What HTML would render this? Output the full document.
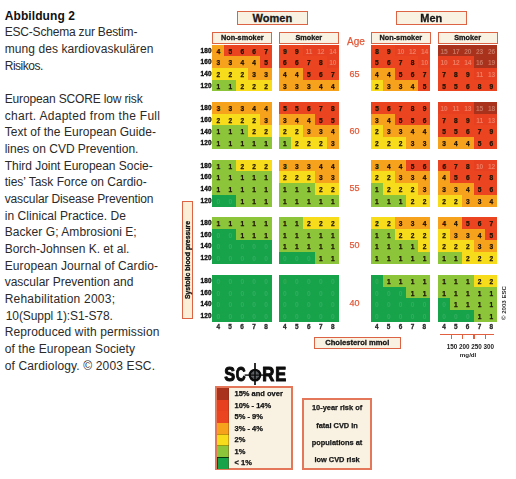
<!DOCTYPE html>
<html><head><meta charset="utf-8"><title>Abbildung 2</title>
<style>
html,body{margin:0;padding:0;background:#fff}
body{width:516px;height:479px;position:relative;overflow:hidden;font-family:"Liberation Sans",sans-serif;color:#1c1c1c}
.cap{position:absolute;left:4.7px;white-space:nowrap;font-size:12px;line-height:16.67px;height:16.67px;color:#2a2a2a}
.cap b{color:#111}
#chart{position:absolute;left:0;top:0;width:516px;height:479px;filter:blur(0.6px)}
.blk{position:absolute;overflow:hidden}
.blk i{position:absolute;display:block;font-style:normal;font-weight:bold;font-size:6.6px;line-height:13px;text-align:center;color:#1e1204;-webkit-text-stroke:0.25px #1e1204}
.blk i.w{color:rgba(250,205,185,0.42);-webkit-text-stroke:0;letter-spacing:-0.2px}
.blk i.z{color:rgba(255,255,255,0.12);-webkit-text-stroke:0}
.G{background:#16a34a}.g{background:#8dc53a}.Y{background:#f7dc1c}.O{background:#f6a21c}.R{background:#ea4520}.r{background:#e64020}.D{background:#a8321c}
.yl{position:absolute;width:12.4px;text-align:right;font-size:6.4px;font-weight:bold;color:#111;letter-spacing:0.1px;-webkit-text-stroke:0.35px #111}
.xl{position:absolute;text-align:center;font-size:6.4px;font-weight:bold;color:#2a2a2a;line-height:6px;-webkit-text-stroke:0.3px #2a2a2a}
.box{position:absolute;box-sizing:border-box;border:1.7px solid #dc6444;background:#f9f2e2;-webkit-text-stroke:0.3px #111;text-align:center;font-weight:bold;color:#1a1a1a;white-space:nowrap;overflow:hidden}
.age{position:absolute;color:#e05a3a;-webkit-text-stroke:0.25px #e05a3a;text-align:center;white-space:nowrap}
</style></head>
<body>
<div class="cap" style="top:7.51px;left:4.7px;letter-spacing:0.097px"><b>Abbildung 2</b></div>
<div class="cap" style="top:24.18px;left:4.7px;letter-spacing:-0.191px">ESC-Schema zur Bestim-</div>
<div class="cap" style="top:40.85px;left:4.7px;letter-spacing:0.081px">mung des kardiovaskulären</div>
<div class="cap" style="top:57.52px;left:4.7px;letter-spacing:-0.474px">Risikos.</div>
<div class="cap" style="top:90.86px;left:4.7px;letter-spacing:-0.154px">European SCORE low risk</div>
<div class="cap" style="top:107.53px;left:4.7px;letter-spacing:0.292px">chart. Adapted from the Full</div>
<div class="cap" style="top:124.20px;left:4.7px;letter-spacing:0.046px">Text of the European Guide-</div>
<div class="cap" style="top:140.87px;left:4.7px;letter-spacing:-0.016px">lines on CVD Prevention.</div>
<div class="cap" style="top:157.54px;left:4.7px;letter-spacing:-0.029px">Third Joint European Socie-</div>
<div class="cap" style="top:174.21px;left:4.7px;letter-spacing:-0.002px">ties’ Task Force on Cardio-</div>
<div class="cap" style="top:190.88px;left:4.7px;letter-spacing:-0.130px">vascular Disease Prevention</div>
<div class="cap" style="top:207.55px;left:4.7px;letter-spacing:0.054px">in Clinical Practice. De</div>
<div class="cap" style="top:224.22px;left:4.7px;letter-spacing:0.058px">Backer G; Ambrosioni E;</div>
<div class="cap" style="top:240.89px;left:4.7px;letter-spacing:-0.002px">Borch-Johnsen K. et al.</div>
<div class="cap" style="top:257.56px;left:4.7px;letter-spacing:0.097px">European Journal of Cardio-</div>
<div class="cap" style="top:274.23px;left:4.7px;letter-spacing:-0.002px">vascular Prevention and</div>
<div class="cap" style="top:290.90px;left:4.7px;letter-spacing:0.222px">Rehabilitation 2003;</div>
<div class="cap" style="top:307.57px;left:5.8px;letter-spacing:-0.096px">10(Suppl 1):S1-S78.</div>
<div class="cap" style="top:324.24px;left:4.7px;letter-spacing:0.132px">Reproduced with permission</div>
<div class="cap" style="top:340.91px;left:4.7px;letter-spacing:0.100px">of the European Society</div>
<div class="cap" style="top:357.58px;left:4.7px;letter-spacing:0.144px">of Cardiology. © 2003 ESC.</div>
<div id="chart">
<div class="box" style="left:237px;top:10.8px;width:70.7px;height:14.5px;font-size:11px;line-height:11.6px;padding-top:1.6px">Women</div>
<div class="box" style="left:396px;top:10.8px;width:70.7px;height:14.5px;font-size:11px;line-height:11.6px;padding-top:1.6px">Men</div>
<div class="box lb" style="left:212.2px;top:32.3px;width:60.2px;height:12px;font-size:7.3px;line-height:8.8px;padding-top:0.7px">Non-smoker</div>
<div class="box lb" style="left:278.7px;top:32.3px;width:60.2px;height:12px;font-size:7.3px;line-height:8.8px;padding-top:0.7px">Smoker</div>
<div class="box lb" style="left:370.8px;top:32.3px;width:60px;height:12px;font-size:7.3px;line-height:8.8px;padding-top:0.7px">Non-smoker</div>
<div class="box lb" style="left:437.6px;top:32.3px;width:60px;height:12px;font-size:7.3px;line-height:8.8px;padding-top:0.7px">Smoker</div>
<div class="age" style="left:341.5px;top:35.8px;width:29px;font-size:10px;line-height:12px">Age</div>
<div class="age" style="left:340px;top:67.8px;width:29px;font-size:9px;line-height:12px">65</div>
<div class="age" style="left:340px;top:124.5px;width:29px;font-size:9px;line-height:12px">60</div>
<div class="age" style="left:340px;top:181.8px;width:29px;font-size:9px;line-height:12px">55</div>
<div class="age" style="left:340px;top:239.2px;width:29px;font-size:9px;line-height:12px">50</div>
<div class="age" style="left:340px;top:296.5px;width:29px;font-size:9px;line-height:12px">40</div>
<div class="blk" style="left:212.2px;top:44.7px;width:59.80000000000001px;height:46.8px"><i class="O " style="left:0.00px;top:0.00px;width:12.26px;height:12.00px">4</i><i class="R " style="left:11.96px;top:0.00px;width:12.26px;height:12.00px">5</i><i class="R " style="left:23.92px;top:0.00px;width:12.26px;height:12.00px">6</i><i class="R " style="left:35.88px;top:0.00px;width:12.26px;height:12.00px">6</i><i class="R " style="left:47.84px;top:0.00px;width:12.26px;height:12.00px">7</i><i class="O " style="left:0.00px;top:11.70px;width:12.26px;height:12.00px">3</i><i class="O " style="left:11.96px;top:11.70px;width:12.26px;height:12.00px">3</i><i class="O " style="left:23.92px;top:11.70px;width:12.26px;height:12.00px">4</i><i class="O " style="left:35.88px;top:11.70px;width:12.26px;height:12.00px">4</i><i class="R " style="left:47.84px;top:11.70px;width:12.26px;height:12.00px">5</i><i class="Y " style="left:0.00px;top:23.40px;width:12.26px;height:12.00px">2</i><i class="Y " style="left:11.96px;top:23.40px;width:12.26px;height:12.00px">2</i><i class="Y " style="left:23.92px;top:23.40px;width:12.26px;height:12.00px">2</i><i class="O " style="left:35.88px;top:23.40px;width:12.26px;height:12.00px">3</i><i class="O " style="left:47.84px;top:23.40px;width:12.26px;height:12.00px">3</i><i class="g " style="left:0.00px;top:35.10px;width:12.26px;height:12.00px">1</i><i class="g " style="left:11.96px;top:35.10px;width:12.26px;height:12.00px">1</i><i class="Y " style="left:23.92px;top:35.10px;width:12.26px;height:12.00px">2</i><i class="Y " style="left:35.88px;top:35.10px;width:12.26px;height:12.00px">2</i><i class="Y " style="left:47.84px;top:35.10px;width:12.26px;height:12.00px">2</i></div>
<span class="yl" style="left:199.2px;top:44.70px;height:11.70px;line-height:11.70px">180</span>
<span class="yl" style="left:199.2px;top:56.40px;height:11.70px;line-height:11.70px">160</span>
<span class="yl" style="left:199.2px;top:68.10px;height:11.70px;line-height:11.70px">140</span>
<span class="yl" style="left:199.2px;top:79.80px;height:11.70px;line-height:11.70px">120</span>
<div class="blk" style="left:212.2px;top:102.3px;width:59.80000000000001px;height:46.39999999999999px"><i class="O " style="left:0.00px;top:0.00px;width:12.26px;height:11.90px">3</i><i class="O " style="left:11.96px;top:0.00px;width:12.26px;height:11.90px">3</i><i class="O " style="left:23.92px;top:0.00px;width:12.26px;height:11.90px">3</i><i class="O " style="left:35.88px;top:0.00px;width:12.26px;height:11.90px">4</i><i class="O " style="left:47.84px;top:0.00px;width:12.26px;height:11.90px">4</i><i class="Y " style="left:0.00px;top:11.60px;width:12.26px;height:11.90px">2</i><i class="Y " style="left:11.96px;top:11.60px;width:12.26px;height:11.90px">2</i><i class="Y " style="left:23.92px;top:11.60px;width:12.26px;height:11.90px">2</i><i class="Y " style="left:35.88px;top:11.60px;width:12.26px;height:11.90px">2</i><i class="O " style="left:47.84px;top:11.60px;width:12.26px;height:11.90px">3</i><i class="g " style="left:0.00px;top:23.20px;width:12.26px;height:11.90px">1</i><i class="g " style="left:11.96px;top:23.20px;width:12.26px;height:11.90px">1</i><i class="g " style="left:23.92px;top:23.20px;width:12.26px;height:11.90px">1</i><i class="Y " style="left:35.88px;top:23.20px;width:12.26px;height:11.90px">2</i><i class="Y " style="left:47.84px;top:23.20px;width:12.26px;height:11.90px">2</i><i class="g " style="left:0.00px;top:34.80px;width:12.26px;height:11.90px">1</i><i class="g " style="left:11.96px;top:34.80px;width:12.26px;height:11.90px">1</i><i class="g " style="left:23.92px;top:34.80px;width:12.26px;height:11.90px">1</i><i class="g " style="left:35.88px;top:34.80px;width:12.26px;height:11.90px">1</i><i class="g " style="left:47.84px;top:34.80px;width:12.26px;height:11.90px">1</i></div>
<span class="yl" style="left:199.2px;top:102.30px;height:11.60px;line-height:11.60px">180</span>
<span class="yl" style="left:199.2px;top:113.90px;height:11.60px;line-height:11.60px">160</span>
<span class="yl" style="left:199.2px;top:125.50px;height:11.60px;line-height:11.60px">140</span>
<span class="yl" style="left:199.2px;top:137.10px;height:11.60px;line-height:11.60px">120</span>
<div class="blk" style="left:212.2px;top:159.6px;width:59.80000000000001px;height:47.20000000000002px"><i class="g " style="left:0.00px;top:0.00px;width:12.26px;height:12.10px">1</i><i class="g " style="left:11.96px;top:0.00px;width:12.26px;height:12.10px">1</i><i class="Y " style="left:23.92px;top:0.00px;width:12.26px;height:12.10px">2</i><i class="Y " style="left:35.88px;top:0.00px;width:12.26px;height:12.10px">2</i><i class="Y " style="left:47.84px;top:0.00px;width:12.26px;height:12.10px">2</i><i class="g " style="left:0.00px;top:11.80px;width:12.26px;height:12.10px">1</i><i class="g " style="left:11.96px;top:11.80px;width:12.26px;height:12.10px">1</i><i class="g " style="left:23.92px;top:11.80px;width:12.26px;height:12.10px">1</i><i class="g " style="left:35.88px;top:11.80px;width:12.26px;height:12.10px">1</i><i class="g " style="left:47.84px;top:11.80px;width:12.26px;height:12.10px">1</i><i class="g " style="left:0.00px;top:23.60px;width:12.26px;height:12.10px">1</i><i class="g " style="left:11.96px;top:23.60px;width:12.26px;height:12.10px">1</i><i class="g " style="left:23.92px;top:23.60px;width:12.26px;height:12.10px">1</i><i class="g " style="left:35.88px;top:23.60px;width:12.26px;height:12.10px">1</i><i class="g " style="left:47.84px;top:23.60px;width:12.26px;height:12.10px">1</i><i class="G z" style="left:0.00px;top:35.40px;width:12.26px;height:12.10px">0</i><i class="G z" style="left:11.96px;top:35.40px;width:12.26px;height:12.10px">0</i><i class="g " style="left:23.92px;top:35.40px;width:12.26px;height:12.10px">1</i><i class="g " style="left:35.88px;top:35.40px;width:12.26px;height:12.10px">1</i><i class="g " style="left:47.84px;top:35.40px;width:12.26px;height:12.10px">1</i></div>
<span class="yl" style="left:199.2px;top:159.60px;height:11.80px;line-height:11.80px">180</span>
<span class="yl" style="left:199.2px;top:171.40px;height:11.80px;line-height:11.80px">160</span>
<span class="yl" style="left:199.2px;top:183.20px;height:11.80px;line-height:11.80px">140</span>
<span class="yl" style="left:199.2px;top:195.00px;height:11.80px;line-height:11.80px">120</span>
<div class="blk" style="left:212.2px;top:217.0px;width:59.80000000000001px;height:46.69999999999999px"><i class="g " style="left:0.00px;top:0.00px;width:12.26px;height:11.97px">1</i><i class="g " style="left:11.96px;top:0.00px;width:12.26px;height:11.97px">1</i><i class="g " style="left:23.92px;top:0.00px;width:12.26px;height:11.97px">1</i><i class="g " style="left:35.88px;top:0.00px;width:12.26px;height:11.97px">1</i><i class="g " style="left:47.84px;top:0.00px;width:12.26px;height:11.97px">1</i><i class="G z" style="left:0.00px;top:11.67px;width:12.26px;height:11.97px">0</i><i class="G z" style="left:11.96px;top:11.67px;width:12.26px;height:11.97px">0</i><i class="g " style="left:23.92px;top:11.67px;width:12.26px;height:11.97px">1</i><i class="g " style="left:35.88px;top:11.67px;width:12.26px;height:11.97px">1</i><i class="g " style="left:47.84px;top:11.67px;width:12.26px;height:11.97px">1</i><i class="G z" style="left:0.00px;top:23.35px;width:12.26px;height:11.97px">0</i><i class="G z" style="left:11.96px;top:23.35px;width:12.26px;height:11.97px">0</i><i class="G z" style="left:23.92px;top:23.35px;width:12.26px;height:11.97px">0</i><i class="G z" style="left:35.88px;top:23.35px;width:12.26px;height:11.97px">0</i><i class="G z" style="left:47.84px;top:23.35px;width:12.26px;height:11.97px">0</i><i class="G z" style="left:0.00px;top:35.02px;width:12.26px;height:11.97px">0</i><i class="G z" style="left:11.96px;top:35.02px;width:12.26px;height:11.97px">0</i><i class="G z" style="left:23.92px;top:35.02px;width:12.26px;height:11.97px">0</i><i class="G z" style="left:35.88px;top:35.02px;width:12.26px;height:11.97px">0</i><i class="G z" style="left:47.84px;top:35.02px;width:12.26px;height:11.97px">0</i></div>
<span class="yl" style="left:199.2px;top:217.00px;height:11.67px;line-height:11.67px">180</span>
<span class="yl" style="left:199.2px;top:228.68px;height:11.67px;line-height:11.67px">160</span>
<span class="yl" style="left:199.2px;top:240.35px;height:11.67px;line-height:11.67px">140</span>
<span class="yl" style="left:199.2px;top:252.02px;height:11.67px;line-height:11.67px">120</span>
<div class="blk" style="left:212.2px;top:274.8px;width:59.80000000000001px;height:47.19999999999999px"><i class="G z" style="left:0.00px;top:0.00px;width:12.26px;height:12.10px">0</i><i class="G z" style="left:11.96px;top:0.00px;width:12.26px;height:12.10px">0</i><i class="G z" style="left:23.92px;top:0.00px;width:12.26px;height:12.10px">0</i><i class="G z" style="left:35.88px;top:0.00px;width:12.26px;height:12.10px">0</i><i class="G z" style="left:47.84px;top:0.00px;width:12.26px;height:12.10px">0</i><i class="G z" style="left:0.00px;top:11.80px;width:12.26px;height:12.10px">0</i><i class="G z" style="left:11.96px;top:11.80px;width:12.26px;height:12.10px">0</i><i class="G z" style="left:23.92px;top:11.80px;width:12.26px;height:12.10px">0</i><i class="G z" style="left:35.88px;top:11.80px;width:12.26px;height:12.10px">0</i><i class="G z" style="left:47.84px;top:11.80px;width:12.26px;height:12.10px">0</i><i class="G z" style="left:0.00px;top:23.60px;width:12.26px;height:12.10px">0</i><i class="G z" style="left:11.96px;top:23.60px;width:12.26px;height:12.10px">0</i><i class="G z" style="left:23.92px;top:23.60px;width:12.26px;height:12.10px">0</i><i class="G z" style="left:35.88px;top:23.60px;width:12.26px;height:12.10px">0</i><i class="G z" style="left:47.84px;top:23.60px;width:12.26px;height:12.10px">0</i><i class="G z" style="left:0.00px;top:35.40px;width:12.26px;height:12.10px">0</i><i class="G z" style="left:11.96px;top:35.40px;width:12.26px;height:12.10px">0</i><i class="G z" style="left:23.92px;top:35.40px;width:12.26px;height:12.10px">0</i><i class="G z" style="left:35.88px;top:35.40px;width:12.26px;height:12.10px">0</i><i class="G z" style="left:47.84px;top:35.40px;width:12.26px;height:12.10px">0</i></div>
<span class="yl" style="left:199.2px;top:274.80px;height:11.80px;line-height:11.80px">180</span>
<span class="yl" style="left:199.2px;top:286.60px;height:11.80px;line-height:11.80px">160</span>
<span class="yl" style="left:199.2px;top:298.40px;height:11.80px;line-height:11.80px">140</span>
<span class="yl" style="left:199.2px;top:310.20px;height:11.80px;line-height:11.80px">120</span>
<span class="xl" style="left:212.20px;top:323.5px;width:11.96px">4</span>
<span class="xl" style="left:224.16px;top:323.5px;width:11.96px">5</span>
<span class="xl" style="left:236.12px;top:323.5px;width:11.96px">6</span>
<span class="xl" style="left:248.08px;top:323.5px;width:11.96px">7</span>
<span class="xl" style="left:260.04px;top:323.5px;width:11.96px">8</span>
<div class="blk" style="left:278.7px;top:44.7px;width:60.0px;height:46.8px"><i class="R " style="left:0.00px;top:0.00px;width:12.30px;height:12.00px">9</i><i class="R " style="left:12.00px;top:0.00px;width:12.30px;height:12.00px">9</i><i class="r w" style="left:24.00px;top:0.00px;width:12.30px;height:12.00px">11</i><i class="r w" style="left:36.00px;top:0.00px;width:12.30px;height:12.00px">12</i><i class="r w" style="left:48.00px;top:0.00px;width:12.30px;height:12.00px">14</i><i class="R " style="left:0.00px;top:11.70px;width:12.30px;height:12.00px">6</i><i class="R " style="left:12.00px;top:11.70px;width:12.30px;height:12.00px">6</i><i class="R " style="left:24.00px;top:11.70px;width:12.30px;height:12.00px">7</i><i class="R " style="left:36.00px;top:11.70px;width:12.30px;height:12.00px">8</i><i class="r w" style="left:48.00px;top:11.70px;width:12.30px;height:12.00px">10</i><i class="O " style="left:0.00px;top:23.40px;width:12.30px;height:12.00px">4</i><i class="O " style="left:12.00px;top:23.40px;width:12.30px;height:12.00px">4</i><i class="R " style="left:24.00px;top:23.40px;width:12.30px;height:12.00px">5</i><i class="R " style="left:36.00px;top:23.40px;width:12.30px;height:12.00px">6</i><i class="R " style="left:48.00px;top:23.40px;width:12.30px;height:12.00px">7</i><i class="O " style="left:0.00px;top:35.10px;width:12.30px;height:12.00px">3</i><i class="O " style="left:12.00px;top:35.10px;width:12.30px;height:12.00px">3</i><i class="O " style="left:24.00px;top:35.10px;width:12.30px;height:12.00px">3</i><i class="O " style="left:36.00px;top:35.10px;width:12.30px;height:12.00px">4</i><i class="O " style="left:48.00px;top:35.10px;width:12.30px;height:12.00px">4</i></div>
<div class="blk" style="left:278.7px;top:102.3px;width:60.0px;height:46.39999999999999px"><i class="R " style="left:0.00px;top:0.00px;width:12.30px;height:11.90px">5</i><i class="R " style="left:12.00px;top:0.00px;width:12.30px;height:11.90px">5</i><i class="R " style="left:24.00px;top:0.00px;width:12.30px;height:11.90px">6</i><i class="R " style="left:36.00px;top:0.00px;width:12.30px;height:11.90px">7</i><i class="R " style="left:48.00px;top:0.00px;width:12.30px;height:11.90px">8</i><i class="O " style="left:0.00px;top:11.60px;width:12.30px;height:11.90px">3</i><i class="O " style="left:12.00px;top:11.60px;width:12.30px;height:11.90px">4</i><i class="O " style="left:24.00px;top:11.60px;width:12.30px;height:11.90px">4</i><i class="R " style="left:36.00px;top:11.60px;width:12.30px;height:11.90px">5</i><i class="R " style="left:48.00px;top:11.60px;width:12.30px;height:11.90px">5</i><i class="Y " style="left:0.00px;top:23.20px;width:12.30px;height:11.90px">2</i><i class="Y " style="left:12.00px;top:23.20px;width:12.30px;height:11.90px">2</i><i class="O " style="left:24.00px;top:23.20px;width:12.30px;height:11.90px">3</i><i class="O " style="left:36.00px;top:23.20px;width:12.30px;height:11.90px">3</i><i class="O " style="left:48.00px;top:23.20px;width:12.30px;height:11.90px">4</i><i class="g " style="left:0.00px;top:34.80px;width:12.30px;height:11.90px">1</i><i class="Y " style="left:12.00px;top:34.80px;width:12.30px;height:11.90px">2</i><i class="Y " style="left:24.00px;top:34.80px;width:12.30px;height:11.90px">2</i><i class="Y " style="left:36.00px;top:34.80px;width:12.30px;height:11.90px">2</i><i class="O " style="left:48.00px;top:34.80px;width:12.30px;height:11.90px">3</i></div>
<div class="blk" style="left:278.7px;top:159.6px;width:60.0px;height:47.20000000000002px"><i class="O " style="left:0.00px;top:0.00px;width:12.30px;height:12.10px">3</i><i class="O " style="left:12.00px;top:0.00px;width:12.30px;height:12.10px">3</i><i class="O " style="left:24.00px;top:0.00px;width:12.30px;height:12.10px">3</i><i class="O " style="left:36.00px;top:0.00px;width:12.30px;height:12.10px">4</i><i class="O " style="left:48.00px;top:0.00px;width:12.30px;height:12.10px">4</i><i class="Y " style="left:0.00px;top:11.80px;width:12.30px;height:12.10px">2</i><i class="Y " style="left:12.00px;top:11.80px;width:12.30px;height:12.10px">2</i><i class="Y " style="left:24.00px;top:11.80px;width:12.30px;height:12.10px">2</i><i class="O " style="left:36.00px;top:11.80px;width:12.30px;height:12.10px">3</i><i class="O " style="left:48.00px;top:11.80px;width:12.30px;height:12.10px">3</i><i class="g " style="left:0.00px;top:23.60px;width:12.30px;height:12.10px">1</i><i class="g " style="left:12.00px;top:23.60px;width:12.30px;height:12.10px">1</i><i class="g " style="left:24.00px;top:23.60px;width:12.30px;height:12.10px">1</i><i class="Y " style="left:36.00px;top:23.60px;width:12.30px;height:12.10px">2</i><i class="Y " style="left:48.00px;top:23.60px;width:12.30px;height:12.10px">2</i><i class="g " style="left:0.00px;top:35.40px;width:12.30px;height:12.10px">1</i><i class="g " style="left:12.00px;top:35.40px;width:12.30px;height:12.10px">1</i><i class="g " style="left:24.00px;top:35.40px;width:12.30px;height:12.10px">1</i><i class="g " style="left:36.00px;top:35.40px;width:12.30px;height:12.10px">1</i><i class="g " style="left:48.00px;top:35.40px;width:12.30px;height:12.10px">1</i></div>
<div class="blk" style="left:278.7px;top:217.0px;width:60.0px;height:46.69999999999999px"><i class="g " style="left:0.00px;top:0.00px;width:12.30px;height:11.97px">1</i><i class="g " style="left:12.00px;top:0.00px;width:12.30px;height:11.97px">1</i><i class="Y " style="left:24.00px;top:0.00px;width:12.30px;height:11.97px">2</i><i class="Y " style="left:36.00px;top:0.00px;width:12.30px;height:11.97px">2</i><i class="Y " style="left:48.00px;top:0.00px;width:12.30px;height:11.97px">2</i><i class="g " style="left:0.00px;top:11.67px;width:12.30px;height:11.97px">1</i><i class="g " style="left:12.00px;top:11.67px;width:12.30px;height:11.97px">1</i><i class="g " style="left:24.00px;top:11.67px;width:12.30px;height:11.97px">1</i><i class="g " style="left:36.00px;top:11.67px;width:12.30px;height:11.97px">1</i><i class="g " style="left:48.00px;top:11.67px;width:12.30px;height:11.97px">1</i><i class="g " style="left:0.00px;top:23.35px;width:12.30px;height:11.97px">1</i><i class="g " style="left:12.00px;top:23.35px;width:12.30px;height:11.97px">1</i><i class="g " style="left:24.00px;top:23.35px;width:12.30px;height:11.97px">1</i><i class="g " style="left:36.00px;top:23.35px;width:12.30px;height:11.97px">1</i><i class="g " style="left:48.00px;top:23.35px;width:12.30px;height:11.97px">1</i><i class="G z" style="left:0.00px;top:35.02px;width:12.30px;height:11.97px">0</i><i class="G z" style="left:12.00px;top:35.02px;width:12.30px;height:11.97px">0</i><i class="G z" style="left:24.00px;top:35.02px;width:12.30px;height:11.97px">0</i><i class="g " style="left:36.00px;top:35.02px;width:12.30px;height:11.97px">1</i><i class="g " style="left:48.00px;top:35.02px;width:12.30px;height:11.97px">1</i></div>
<div class="blk" style="left:278.7px;top:274.8px;width:60.0px;height:47.19999999999999px"><i class="G z" style="left:0.00px;top:0.00px;width:12.30px;height:12.10px">0</i><i class="G z" style="left:12.00px;top:0.00px;width:12.30px;height:12.10px">0</i><i class="G z" style="left:24.00px;top:0.00px;width:12.30px;height:12.10px">0</i><i class="G z" style="left:36.00px;top:0.00px;width:12.30px;height:12.10px">0</i><i class="G z" style="left:48.00px;top:0.00px;width:12.30px;height:12.10px">0</i><i class="G z" style="left:0.00px;top:11.80px;width:12.30px;height:12.10px">0</i><i class="G z" style="left:12.00px;top:11.80px;width:12.30px;height:12.10px">0</i><i class="G z" style="left:24.00px;top:11.80px;width:12.30px;height:12.10px">0</i><i class="G z" style="left:36.00px;top:11.80px;width:12.30px;height:12.10px">0</i><i class="G z" style="left:48.00px;top:11.80px;width:12.30px;height:12.10px">0</i><i class="G z" style="left:0.00px;top:23.60px;width:12.30px;height:12.10px">0</i><i class="G z" style="left:12.00px;top:23.60px;width:12.30px;height:12.10px">0</i><i class="G z" style="left:24.00px;top:23.60px;width:12.30px;height:12.10px">0</i><i class="G z" style="left:36.00px;top:23.60px;width:12.30px;height:12.10px">0</i><i class="G z" style="left:48.00px;top:23.60px;width:12.30px;height:12.10px">0</i><i class="G z" style="left:0.00px;top:35.40px;width:12.30px;height:12.10px">0</i><i class="G z" style="left:12.00px;top:35.40px;width:12.30px;height:12.10px">0</i><i class="G z" style="left:24.00px;top:35.40px;width:12.30px;height:12.10px">0</i><i class="G z" style="left:36.00px;top:35.40px;width:12.30px;height:12.10px">0</i><i class="G z" style="left:48.00px;top:35.40px;width:12.30px;height:12.10px">0</i></div>
<span class="xl" style="left:278.70px;top:323.5px;width:12.00px">4</span>
<span class="xl" style="left:290.70px;top:323.5px;width:12.00px">5</span>
<span class="xl" style="left:302.70px;top:323.5px;width:12.00px">6</span>
<span class="xl" style="left:314.70px;top:323.5px;width:12.00px">7</span>
<span class="xl" style="left:326.70px;top:323.5px;width:12.00px">8</span>
<div class="blk" style="left:370.8px;top:44.7px;width:59.5px;height:46.8px"><i class="R " style="left:0.00px;top:0.00px;width:12.20px;height:12.00px">8</i><i class="R " style="left:11.90px;top:0.00px;width:12.20px;height:12.00px">9</i><i class="r w" style="left:23.80px;top:0.00px;width:12.20px;height:12.00px">10</i><i class="r w" style="left:35.70px;top:0.00px;width:12.20px;height:12.00px">12</i><i class="r w" style="left:47.60px;top:0.00px;width:12.20px;height:12.00px">14</i><i class="R " style="left:0.00px;top:11.70px;width:12.20px;height:12.00px">5</i><i class="R " style="left:11.90px;top:11.70px;width:12.20px;height:12.00px">6</i><i class="R " style="left:23.80px;top:11.70px;width:12.20px;height:12.00px">7</i><i class="R " style="left:35.70px;top:11.70px;width:12.20px;height:12.00px">8</i><i class="r w" style="left:47.60px;top:11.70px;width:12.20px;height:12.00px">10</i><i class="O " style="left:0.00px;top:23.40px;width:12.20px;height:12.00px">4</i><i class="O " style="left:11.90px;top:23.40px;width:12.20px;height:12.00px">4</i><i class="R " style="left:23.80px;top:23.40px;width:12.20px;height:12.00px">5</i><i class="R " style="left:35.70px;top:23.40px;width:12.20px;height:12.00px">6</i><i class="R " style="left:47.60px;top:23.40px;width:12.20px;height:12.00px">7</i><i class="Y " style="left:0.00px;top:35.10px;width:12.20px;height:12.00px">2</i><i class="O " style="left:11.90px;top:35.10px;width:12.20px;height:12.00px">3</i><i class="O " style="left:23.80px;top:35.10px;width:12.20px;height:12.00px">3</i><i class="O " style="left:35.70px;top:35.10px;width:12.20px;height:12.00px">4</i><i class="R " style="left:47.60px;top:35.10px;width:12.20px;height:12.00px">5</i></div>
<div class="blk" style="left:370.8px;top:102.3px;width:59.5px;height:46.39999999999999px"><i class="R " style="left:0.00px;top:0.00px;width:12.20px;height:11.90px">5</i><i class="R " style="left:11.90px;top:0.00px;width:12.20px;height:11.90px">6</i><i class="R " style="left:23.80px;top:0.00px;width:12.20px;height:11.90px">7</i><i class="R " style="left:35.70px;top:0.00px;width:12.20px;height:11.90px">8</i><i class="R " style="left:47.60px;top:0.00px;width:12.20px;height:11.90px">9</i><i class="O " style="left:0.00px;top:11.60px;width:12.20px;height:11.90px">3</i><i class="O " style="left:11.90px;top:11.60px;width:12.20px;height:11.90px">4</i><i class="R " style="left:23.80px;top:11.60px;width:12.20px;height:11.90px">5</i><i class="R " style="left:35.70px;top:11.60px;width:12.20px;height:11.90px">5</i><i class="R " style="left:47.60px;top:11.60px;width:12.20px;height:11.90px">6</i><i class="Y " style="left:0.00px;top:23.20px;width:12.20px;height:11.90px">2</i><i class="O " style="left:11.90px;top:23.20px;width:12.20px;height:11.90px">3</i><i class="O " style="left:23.80px;top:23.20px;width:12.20px;height:11.90px">3</i><i class="O " style="left:35.70px;top:23.20px;width:12.20px;height:11.90px">4</i><i class="O " style="left:47.60px;top:23.20px;width:12.20px;height:11.90px">4</i><i class="Y " style="left:0.00px;top:34.80px;width:12.20px;height:11.90px">2</i><i class="Y " style="left:11.90px;top:34.80px;width:12.20px;height:11.90px">2</i><i class="Y " style="left:23.80px;top:34.80px;width:12.20px;height:11.90px">2</i><i class="O " style="left:35.70px;top:34.80px;width:12.20px;height:11.90px">3</i><i class="O " style="left:47.60px;top:34.80px;width:12.20px;height:11.90px">3</i></div>
<div class="blk" style="left:370.8px;top:159.6px;width:59.5px;height:47.20000000000002px"><i class="O " style="left:0.00px;top:0.00px;width:12.20px;height:12.10px">3</i><i class="O " style="left:11.90px;top:0.00px;width:12.20px;height:12.10px">4</i><i class="O " style="left:23.80px;top:0.00px;width:12.20px;height:12.10px">4</i><i class="R " style="left:35.70px;top:0.00px;width:12.20px;height:12.10px">5</i><i class="R " style="left:47.60px;top:0.00px;width:12.20px;height:12.10px">6</i><i class="Y " style="left:0.00px;top:11.80px;width:12.20px;height:12.10px">2</i><i class="Y " style="left:11.90px;top:11.80px;width:12.20px;height:12.10px">2</i><i class="O " style="left:23.80px;top:11.80px;width:12.20px;height:12.10px">3</i><i class="O " style="left:35.70px;top:11.80px;width:12.20px;height:12.10px">3</i><i class="O " style="left:47.60px;top:11.80px;width:12.20px;height:12.10px">4</i><i class="g " style="left:0.00px;top:23.60px;width:12.20px;height:12.10px">1</i><i class="Y " style="left:11.90px;top:23.60px;width:12.20px;height:12.10px">2</i><i class="Y " style="left:23.80px;top:23.60px;width:12.20px;height:12.10px">2</i><i class="Y " style="left:35.70px;top:23.60px;width:12.20px;height:12.10px">2</i><i class="O " style="left:47.60px;top:23.60px;width:12.20px;height:12.10px">3</i><i class="g " style="left:0.00px;top:35.40px;width:12.20px;height:12.10px">1</i><i class="g " style="left:11.90px;top:35.40px;width:12.20px;height:12.10px">1</i><i class="g " style="left:23.80px;top:35.40px;width:12.20px;height:12.10px">1</i><i class="Y " style="left:35.70px;top:35.40px;width:12.20px;height:12.10px">2</i><i class="Y " style="left:47.60px;top:35.40px;width:12.20px;height:12.10px">2</i></div>
<div class="blk" style="left:370.8px;top:217.0px;width:59.5px;height:46.69999999999999px"><i class="Y " style="left:0.00px;top:0.00px;width:12.20px;height:11.97px">2</i><i class="Y " style="left:11.90px;top:0.00px;width:12.20px;height:11.97px">2</i><i class="O " style="left:23.80px;top:0.00px;width:12.20px;height:11.97px">3</i><i class="O " style="left:35.70px;top:0.00px;width:12.20px;height:11.97px">3</i><i class="O " style="left:47.60px;top:0.00px;width:12.20px;height:11.97px">4</i><i class="g " style="left:0.00px;top:11.67px;width:12.20px;height:11.97px">1</i><i class="g " style="left:11.90px;top:11.67px;width:12.20px;height:11.97px">1</i><i class="Y " style="left:23.80px;top:11.67px;width:12.20px;height:11.97px">2</i><i class="Y " style="left:35.70px;top:11.67px;width:12.20px;height:11.97px">2</i><i class="Y " style="left:47.60px;top:11.67px;width:12.20px;height:11.97px">2</i><i class="g " style="left:0.00px;top:23.35px;width:12.20px;height:11.97px">1</i><i class="g " style="left:11.90px;top:23.35px;width:12.20px;height:11.97px">1</i><i class="g " style="left:23.80px;top:23.35px;width:12.20px;height:11.97px">1</i><i class="g " style="left:35.70px;top:23.35px;width:12.20px;height:11.97px">1</i><i class="Y " style="left:47.60px;top:23.35px;width:12.20px;height:11.97px">2</i><i class="g " style="left:0.00px;top:35.02px;width:12.20px;height:11.97px">1</i><i class="g " style="left:11.90px;top:35.02px;width:12.20px;height:11.97px">1</i><i class="g " style="left:23.80px;top:35.02px;width:12.20px;height:11.97px">1</i><i class="g " style="left:35.70px;top:35.02px;width:12.20px;height:11.97px">1</i><i class="g " style="left:47.60px;top:35.02px;width:12.20px;height:11.97px">1</i></div>
<div class="blk" style="left:370.8px;top:274.8px;width:59.5px;height:47.19999999999999px"><i class="G z" style="left:0.00px;top:0.00px;width:12.20px;height:12.10px">0</i><i class="g " style="left:11.90px;top:0.00px;width:12.20px;height:12.10px">1</i><i class="g " style="left:23.80px;top:0.00px;width:12.20px;height:12.10px">1</i><i class="g " style="left:35.70px;top:0.00px;width:12.20px;height:12.10px">1</i><i class="g " style="left:47.60px;top:0.00px;width:12.20px;height:12.10px">1</i><i class="G z" style="left:0.00px;top:11.80px;width:12.20px;height:12.10px">0</i><i class="G z" style="left:11.90px;top:11.80px;width:12.20px;height:12.10px">0</i><i class="G z" style="left:23.80px;top:11.80px;width:12.20px;height:12.10px">0</i><i class="g " style="left:35.70px;top:11.80px;width:12.20px;height:12.10px">1</i><i class="g " style="left:47.60px;top:11.80px;width:12.20px;height:12.10px">1</i><i class="G z" style="left:0.00px;top:23.60px;width:12.20px;height:12.10px">0</i><i class="G z" style="left:11.90px;top:23.60px;width:12.20px;height:12.10px">0</i><i class="G z" style="left:23.80px;top:23.60px;width:12.20px;height:12.10px">0</i><i class="G z" style="left:35.70px;top:23.60px;width:12.20px;height:12.10px">0</i><i class="G z" style="left:47.60px;top:23.60px;width:12.20px;height:12.10px">0</i><i class="G z" style="left:0.00px;top:35.40px;width:12.20px;height:12.10px">0</i><i class="G z" style="left:11.90px;top:35.40px;width:12.20px;height:12.10px">0</i><i class="G z" style="left:23.80px;top:35.40px;width:12.20px;height:12.10px">0</i><i class="G z" style="left:35.70px;top:35.40px;width:12.20px;height:12.10px">0</i><i class="G z" style="left:47.60px;top:35.40px;width:12.20px;height:12.10px">0</i></div>
<span class="xl" style="left:370.80px;top:323.5px;width:11.90px">4</span>
<span class="xl" style="left:382.70px;top:323.5px;width:11.90px">5</span>
<span class="xl" style="left:394.60px;top:323.5px;width:11.90px">6</span>
<span class="xl" style="left:406.50px;top:323.5px;width:11.90px">7</span>
<span class="xl" style="left:418.40px;top:323.5px;width:11.90px">8</span>
<div class="blk" style="left:438px;top:44.7px;width:59.19999999999999px;height:46.8px"><i class="D w" style="left:0.00px;top:0.00px;width:12.14px;height:12.00px">15</i><i class="D w" style="left:11.84px;top:0.00px;width:12.14px;height:12.00px">17</i><i class="D w" style="left:23.68px;top:0.00px;width:12.14px;height:12.00px">20</i><i class="D w" style="left:35.52px;top:0.00px;width:12.14px;height:12.00px">23</i><i class="D w" style="left:47.36px;top:0.00px;width:12.14px;height:12.00px">26</i><i class="r w" style="left:0.00px;top:11.70px;width:12.14px;height:12.00px">10</i><i class="r w" style="left:11.84px;top:11.70px;width:12.14px;height:12.00px">12</i><i class="r w" style="left:23.68px;top:11.70px;width:12.14px;height:12.00px">14</i><i class="D w" style="left:35.52px;top:11.70px;width:12.14px;height:12.00px">16</i><i class="D w" style="left:47.36px;top:11.70px;width:12.14px;height:12.00px">19</i><i class="R " style="left:0.00px;top:23.40px;width:12.14px;height:12.00px">7</i><i class="R " style="left:11.84px;top:23.40px;width:12.14px;height:12.00px">8</i><i class="R " style="left:23.68px;top:23.40px;width:12.14px;height:12.00px">9</i><i class="r w" style="left:35.52px;top:23.40px;width:12.14px;height:12.00px">11</i><i class="r w" style="left:47.36px;top:23.40px;width:12.14px;height:12.00px">13</i><i class="R " style="left:0.00px;top:35.10px;width:12.14px;height:12.00px">5</i><i class="R " style="left:11.84px;top:35.10px;width:12.14px;height:12.00px">5</i><i class="R " style="left:23.68px;top:35.10px;width:12.14px;height:12.00px">6</i><i class="R " style="left:35.52px;top:35.10px;width:12.14px;height:12.00px">8</i><i class="R " style="left:47.36px;top:35.10px;width:12.14px;height:12.00px">9</i></div>
<div class="blk" style="left:438px;top:102.3px;width:59.19999999999999px;height:46.39999999999999px"><i class="r w" style="left:0.00px;top:0.00px;width:12.14px;height:11.90px">10</i><i class="r w" style="left:11.84px;top:0.00px;width:12.14px;height:11.90px">11</i><i class="r w" style="left:23.68px;top:0.00px;width:12.14px;height:11.90px">13</i><i class="D w" style="left:35.52px;top:0.00px;width:12.14px;height:11.90px">15</i><i class="D w" style="left:47.36px;top:0.00px;width:12.14px;height:11.90px">18</i><i class="R " style="left:0.00px;top:11.60px;width:12.14px;height:11.90px">7</i><i class="R " style="left:11.84px;top:11.60px;width:12.14px;height:11.90px">8</i><i class="R " style="left:23.68px;top:11.60px;width:12.14px;height:11.90px">9</i><i class="r w" style="left:35.52px;top:11.60px;width:12.14px;height:11.90px">11</i><i class="r w" style="left:47.36px;top:11.60px;width:12.14px;height:11.90px">13</i><i class="R " style="left:0.00px;top:23.20px;width:12.14px;height:11.90px">5</i><i class="R " style="left:11.84px;top:23.20px;width:12.14px;height:11.90px">5</i><i class="R " style="left:23.68px;top:23.20px;width:12.14px;height:11.90px">6</i><i class="R " style="left:35.52px;top:23.20px;width:12.14px;height:11.90px">7</i><i class="R " style="left:47.36px;top:23.20px;width:12.14px;height:11.90px">9</i><i class="O " style="left:0.00px;top:34.80px;width:12.14px;height:11.90px">3</i><i class="O " style="left:11.84px;top:34.80px;width:12.14px;height:11.90px">4</i><i class="O " style="left:23.68px;top:34.80px;width:12.14px;height:11.90px">4</i><i class="R " style="left:35.52px;top:34.80px;width:12.14px;height:11.90px">5</i><i class="R " style="left:47.36px;top:34.80px;width:12.14px;height:11.90px">6</i></div>
<div class="blk" style="left:438px;top:159.6px;width:59.19999999999999px;height:47.20000000000002px"><i class="R " style="left:0.00px;top:0.00px;width:12.14px;height:12.10px">6</i><i class="R " style="left:11.84px;top:0.00px;width:12.14px;height:12.10px">7</i><i class="R " style="left:23.68px;top:0.00px;width:12.14px;height:12.10px">8</i><i class="r w" style="left:35.52px;top:0.00px;width:12.14px;height:12.10px">10</i><i class="r w" style="left:47.36px;top:0.00px;width:12.14px;height:12.10px">12</i><i class="O " style="left:0.00px;top:11.80px;width:12.14px;height:12.10px">4</i><i class="R " style="left:11.84px;top:11.80px;width:12.14px;height:12.10px">5</i><i class="R " style="left:23.68px;top:11.80px;width:12.14px;height:12.10px">6</i><i class="R " style="left:35.52px;top:11.80px;width:12.14px;height:12.10px">7</i><i class="R " style="left:47.36px;top:11.80px;width:12.14px;height:12.10px">8</i><i class="O " style="left:0.00px;top:23.60px;width:12.14px;height:12.10px">3</i><i class="O " style="left:11.84px;top:23.60px;width:12.14px;height:12.10px">3</i><i class="O " style="left:23.68px;top:23.60px;width:12.14px;height:12.10px">4</i><i class="R " style="left:35.52px;top:23.60px;width:12.14px;height:12.10px">5</i><i class="R " style="left:47.36px;top:23.60px;width:12.14px;height:12.10px">6</i><i class="Y " style="left:0.00px;top:35.40px;width:12.14px;height:12.10px">2</i><i class="Y " style="left:11.84px;top:35.40px;width:12.14px;height:12.10px">2</i><i class="O " style="left:23.68px;top:35.40px;width:12.14px;height:12.10px">3</i><i class="O " style="left:35.52px;top:35.40px;width:12.14px;height:12.10px">3</i><i class="O " style="left:47.36px;top:35.40px;width:12.14px;height:12.10px">4</i></div>
<div class="blk" style="left:438px;top:217.0px;width:59.19999999999999px;height:46.69999999999999px"><i class="O " style="left:0.00px;top:0.00px;width:12.14px;height:11.97px">4</i><i class="O " style="left:11.84px;top:0.00px;width:12.14px;height:11.97px">4</i><i class="R " style="left:23.68px;top:0.00px;width:12.14px;height:11.97px">5</i><i class="R " style="left:35.52px;top:0.00px;width:12.14px;height:11.97px">6</i><i class="R " style="left:47.36px;top:0.00px;width:12.14px;height:11.97px">7</i><i class="Y " style="left:0.00px;top:11.67px;width:12.14px;height:11.97px">2</i><i class="O " style="left:11.84px;top:11.67px;width:12.14px;height:11.97px">3</i><i class="O " style="left:23.68px;top:11.67px;width:12.14px;height:11.97px">3</i><i class="O " style="left:35.52px;top:11.67px;width:12.14px;height:11.97px">4</i><i class="R " style="left:47.36px;top:11.67px;width:12.14px;height:11.97px">5</i><i class="Y " style="left:0.00px;top:23.35px;width:12.14px;height:11.97px">2</i><i class="Y " style="left:11.84px;top:23.35px;width:12.14px;height:11.97px">2</i><i class="Y " style="left:23.68px;top:23.35px;width:12.14px;height:11.97px">2</i><i class="O " style="left:35.52px;top:23.35px;width:12.14px;height:11.97px">3</i><i class="O " style="left:47.36px;top:23.35px;width:12.14px;height:11.97px">3</i><i class="g " style="left:0.00px;top:35.02px;width:12.14px;height:11.97px">1</i><i class="g " style="left:11.84px;top:35.02px;width:12.14px;height:11.97px">1</i><i class="Y " style="left:23.68px;top:35.02px;width:12.14px;height:11.97px">2</i><i class="Y " style="left:35.52px;top:35.02px;width:12.14px;height:11.97px">2</i><i class="Y " style="left:47.36px;top:35.02px;width:12.14px;height:11.97px">2</i></div>
<div class="blk" style="left:438px;top:274.8px;width:59.19999999999999px;height:47.19999999999999px"><i class="g " style="left:0.00px;top:0.00px;width:12.14px;height:12.10px">1</i><i class="g " style="left:11.84px;top:0.00px;width:12.14px;height:12.10px">1</i><i class="g " style="left:23.68px;top:0.00px;width:12.14px;height:12.10px">1</i><i class="Y " style="left:35.52px;top:0.00px;width:12.14px;height:12.10px">2</i><i class="Y " style="left:47.36px;top:0.00px;width:12.14px;height:12.10px">2</i><i class="g " style="left:0.00px;top:11.80px;width:12.14px;height:12.10px">1</i><i class="g " style="left:11.84px;top:11.80px;width:12.14px;height:12.10px">1</i><i class="g " style="left:23.68px;top:11.80px;width:12.14px;height:12.10px">1</i><i class="g " style="left:35.52px;top:11.80px;width:12.14px;height:12.10px">1</i><i class="g " style="left:47.36px;top:11.80px;width:12.14px;height:12.10px">1</i><i class="G z" style="left:0.00px;top:23.60px;width:12.14px;height:12.10px">0</i><i class="g " style="left:11.84px;top:23.60px;width:12.14px;height:12.10px">1</i><i class="g " style="left:23.68px;top:23.60px;width:12.14px;height:12.10px">1</i><i class="g " style="left:35.52px;top:23.60px;width:12.14px;height:12.10px">1</i><i class="g " style="left:47.36px;top:23.60px;width:12.14px;height:12.10px">1</i><i class="G z" style="left:0.00px;top:35.40px;width:12.14px;height:12.10px">0</i><i class="G z" style="left:11.84px;top:35.40px;width:12.14px;height:12.10px">0</i><i class="G z" style="left:23.68px;top:35.40px;width:12.14px;height:12.10px">0</i><i class="g " style="left:35.52px;top:35.40px;width:12.14px;height:12.10px">1</i><i class="g " style="left:47.36px;top:35.40px;width:12.14px;height:12.10px">1</i></div>
<span class="xl" style="left:438.00px;top:323.5px;width:11.84px">4</span>
<span class="xl" style="left:449.84px;top:323.5px;width:11.84px">5</span>
<span class="xl" style="left:461.68px;top:323.5px;width:11.84px">6</span>
<span class="xl" style="left:473.52px;top:323.5px;width:11.84px">7</span>
<span class="xl" style="left:485.36px;top:323.5px;width:11.84px">8</span>
<div class="box" style="left:182px;top:201.3px;width:11.2px;height:117.5px;background:#fbefd8"></div>
<div style="position:absolute;left:187.7px;top:260px;width:0;height:0"><div style="position:absolute;width:120px;left:-60px;top:-4px;height:8px;line-height:8px;font-size:6.9px;font-weight:bold;text-align:center;transform:rotate(-90deg);white-space:nowrap;color:#111;-webkit-text-stroke:0.3px #111">Systolic blood pressure</div></div>
<div class="box" style="left:313.7px;top:336.7px;width:87.2px;height:12.8px;font-size:7.6px;line-height:9.6px">Cholesterol mmol</div>
<div style="position:absolute;left:504.2px;top:303px;width:0;height:0"><div style="position:absolute;width:60px;left:-30px;top:-4px;height:8px;line-height:8px;font-size:6.1px;font-weight:bold;text-align:center;transform:rotate(-90deg);white-space:nowrap;color:#333">© 2003 ESC</div></div>
<!-- mg/dl axis -->
<div style="position:absolute;left:440px;top:333.5px;width:54px;height:1.2px;background:#e2603f"></div>
<div style="position:absolute;left:451.2px;top:334px;width:1.3px;height:4.6px;background:#e2603f"></div>
<div style="position:absolute;left:461.6px;top:334px;width:1.3px;height:4.6px;background:#e2603f"></div>
<div style="position:absolute;left:473.3px;top:334px;width:1.3px;height:4.6px;background:#e2603f"></div>
<div style="position:absolute;left:484.9px;top:334px;width:1.3px;height:4.6px;background:#e2603f"></div>
<div style="position:absolute;left:440.4px;top:343.1px;width:60px;text-align:center;font-size:6.3px;font-weight:bold;color:#222;line-height:7px;white-space:nowrap">150 200 250 300</div>
<div style="position:absolute;left:438.1px;top:351.2px;width:60px;text-align:center;font-size:6.2px;font-weight:bold;color:#222;line-height:7px">mg/dl</div>
<!-- legend -->
<svg style="position:absolute;left:215px;top:355px" width="80" height="34" viewBox="215 355 80 34">
<g font-family="Liberation Sans, sans-serif" font-weight="700" font-size="20.8" fill="#0c0c0c" stroke="#0c0c0c" stroke-width="1.15" stroke-linejoin="round">
<text transform="translate(224.15,380.9) scale(0.78,1)">S</text>
<text transform="translate(235.75,380.9) scale(0.656,1)">C</text>
<text transform="translate(262.2,380.9) scale(0.805,1)">R</text>
<text transform="translate(275.33,380.9) scale(0.79,1)">E</text>
</g>
<circle cx="255" cy="375.1" r="5.1" fill="#9aa0a6" stroke="#0c0c0c" stroke-width="2.6"/>
<path d="M255 362.9V385" stroke="#0c0c0c" stroke-width="1.7" fill="none"/>
<path d="M244.6 375.1H265" stroke="#0c0c0c" stroke-width="1.4" fill="none"/>
<path d="M252.9 371.2V379M257.1 371.2V379M251.2 373H258.8M251.2 377.2H258.8" stroke="#0c0c0c" stroke-width="0.5" fill="none"/>
</svg>
<div class="box" style="left:214.9px;top:386px;width:78.6px;height:84.2px;border:2px solid #e4775a"></div>
<div class="D" style="position:absolute;left:216.5px;top:388.00px;width:12px;height:11.83px"></div>
<div style="position:absolute;left:234.5px;top:388.30px;height:11.53px;line-height:11.53px;font-size:7.5px;font-weight:bold;color:#111;white-space:nowrap;-webkit-text-stroke:0.25px #111">15% and over</div>
<div class="r" style="position:absolute;left:216.5px;top:399.53px;width:12px;height:11.83px"></div>
<div style="position:absolute;left:234.5px;top:399.83px;height:11.53px;line-height:11.53px;font-size:7.5px;font-weight:bold;color:#111;white-space:nowrap;-webkit-text-stroke:0.25px #111">10% - 14%</div>
<div class="R" style="position:absolute;left:216.5px;top:411.06px;width:12px;height:11.83px"></div>
<div style="position:absolute;left:234.5px;top:411.36px;height:11.53px;line-height:11.53px;font-size:7.5px;font-weight:bold;color:#111;white-space:nowrap;-webkit-text-stroke:0.25px #111">5% - 9%</div>
<div class="O" style="position:absolute;left:216.5px;top:422.59px;width:12px;height:11.83px"></div>
<div style="position:absolute;left:234.5px;top:422.89px;height:11.53px;line-height:11.53px;font-size:7.5px;font-weight:bold;color:#111;white-space:nowrap;-webkit-text-stroke:0.25px #111">3% - 4%</div>
<div class="Y" style="position:absolute;left:216.5px;top:434.11px;width:12px;height:11.83px"></div>
<div style="position:absolute;left:234.5px;top:434.41px;height:11.53px;line-height:11.53px;font-size:7.5px;font-weight:bold;color:#111;white-space:nowrap;-webkit-text-stroke:0.25px #111">2%</div>
<div class="g" style="position:absolute;left:216.5px;top:445.64px;width:12px;height:11.83px"></div>
<div style="position:absolute;left:234.5px;top:445.94px;height:11.53px;line-height:11.53px;font-size:7.5px;font-weight:bold;color:#111;white-space:nowrap;-webkit-text-stroke:0.25px #111">1%</div>
<div class="G" style="position:absolute;left:216.5px;top:457.17px;width:12px;height:11.83px"></div>
<div style="position:absolute;left:234.5px;top:457.47px;height:11.53px;line-height:11.53px;font-size:7.5px;font-weight:bold;color:#111;white-space:nowrap;-webkit-text-stroke:0.25px #111">&lt; 1%</div>
<div style="position:absolute;left:216.5px;top:433.61px;width:12px;height:1px;background:rgba(150,90,0,0.55)"></div>
<div style="position:absolute;left:216.5px;top:445.14px;width:12px;height:1px;background:rgba(90,110,0,0.6)"></div>
<div style="position:absolute;left:216.5px;top:456.67px;width:12px;height:1px;background:rgba(0,30,0,0.8)"></div>
<div style="position:absolute;left:216.5px;top:457.17px;width:0.9px;height:11.53px;background:rgba(0,30,0,0.6)"></div>
<div style="position:absolute;left:228px;top:388.00px;width:0.8px;height:80.70px;background:rgba(120,40,20,0.35)"></div>
<div class="box" style="left:301.8px;top:397.6px;width:70.5px;height:72.6px;border:2px solid #e4775a"></div>
<div style="position:absolute;left:301.8px;top:399.4px;width:70.5px;text-align:center;font-size:7.4px;font-weight:bold;line-height:17.3px;-webkit-text-stroke:0.25px #111;color:#1a1a1a;white-space:nowrap">10-year risk of<br>fatal CVD in<br>populations at<br>low CVD risk</div>
</div>
</body></html>
